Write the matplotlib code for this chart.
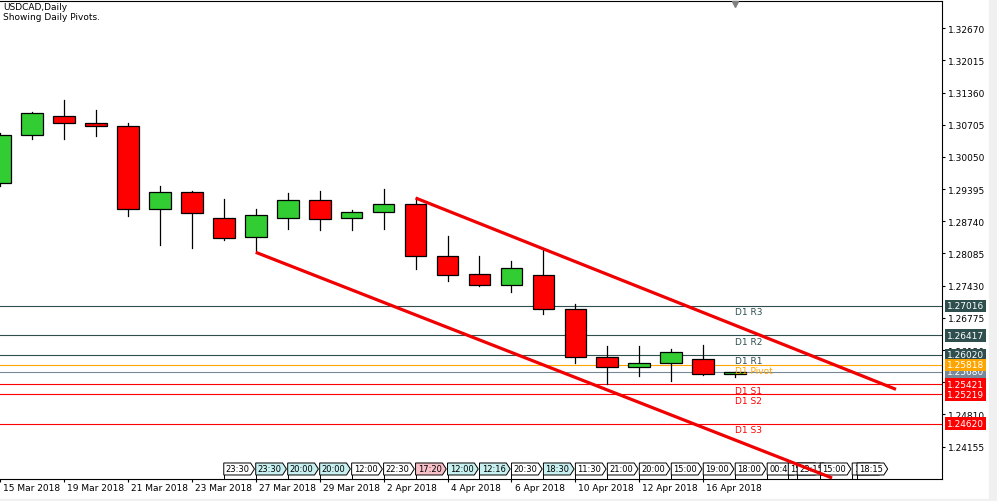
import numpy as np
import matplotlib.pyplot as plt
import matplotlib.transforms as mtransforms
from matplotlib.patches import Rectangle, Polygon

# daily USDCAD candles
dates = ['15 Mar 2018', '16 Mar 2018', '19 Mar 2018', '20 Mar 2018', '21 Mar 2018',
         '22 Mar 2018', '23 Mar 2018', '26 Mar 2018', '27 Mar 2018', '28 Mar 2018',
         '29 Mar 2018', '30 Mar 2018', '2 Apr 2018', '3 Apr 2018', '4 Apr 2018',
         '5 Apr 2018', '6 Apr 2018', '9 Apr 2018', '10 Apr 2018', '11 Apr 2018',
         '12 Apr 2018', '13 Apr 2018', '16 Apr 2018', '17 Apr 2018']
opens = [1.29513, 1.30490, 1.30876, 1.30734, 1.30673, 1.28984, 1.29330, 1.28801,
         1.28414, 1.28801, 1.29167, 1.28801, 1.28923, 1.29086, 1.28027, 1.27661,
         1.27437, 1.27641, 1.26949, 1.25972, 1.25769, 1.25850, 1.25931, 1.25630]
highs = [1.30530, 1.30964, 1.31208, 1.31005, 1.30746, 1.29458, 1.29356, 1.29193,
         1.28990, 1.29316, 1.29356, 1.28970, 1.29397, 1.29214, 1.28434, 1.28027,
         1.27926, 1.28176, 1.27057, 1.26196, 1.26196, 1.26135, 1.26215, 1.25680]
lows = [1.29460, 1.30421, 1.30421, 1.30482, 1.28854, 1.28263, 1.28202, 1.28365,
        1.28129, 1.28583, 1.28563, 1.28569, 1.28589, 1.27775, 1.27531, 1.27417,
        1.27295, 1.26847, 1.25850, 1.25423, 1.25585, 1.25484, 1.25616, 1.25565]
closes = [1.30490, 1.30937, 1.30734, 1.30673, 1.28984, 1.29330, 1.28902, 1.28394,
          1.28862, 1.29167, 1.28780, 1.28923, 1.29086, 1.28027, 1.27641, 1.27437,
          1.27783, 1.26949, 1.25972, 1.25769, 1.25850, 1.26074, 1.25623, 1.25680]

# daily pivot levels
level_names = ['R3', 'R2', 'R1', 'Pivot', 'S1', 'S2', 'S3']
level_values = [1.27016, 1.26417, 1.26020, 1.25818, 1.25421, 1.25219, 1.24620]
level_colors = ['#2F4F4F', '#2F4F4F', '#2F4F4F', '#FFA500', '#FF0000', '#FF0000', '#FF0000']
last_price = 1.25680

# hand drawn channel (start index, start price, end index, end price)
upper_line = [13, 1.29214, 28.03, 1.25320]
lower_line = [8, 1.28109, 26.03, 1.23516]

y_ticks = [1.32670, 1.32015, 1.31360, 1.30705, 1.30050, 1.29395, 1.28740, 1.28085,
           1.27430, 1.26775, 1.26120, 1.25465, 1.24810, 1.24155]

# event time markers along the bottom
event_pos = [7, 8, 9, 10, 11, 12, 13, 14, 15, 16, 17, 18, 19, 20, 21, 22, 23,
             24, 24.66, 24.94, 25.66, 26.66, 26.81]
event_time = ['23:30', '23:30', '20:00', '20:00', '12:00', '22:30', '17:20', '12:00',
              '12:16', '20:30', '18:30', '11:30', '21:00', '20:00', '15:00', '19:00',
              '18:00', '00:45', '15:00', '23:15', '15:00', '18:15', '18:15']
event_color = ['white', '#C8F0F0', '#C8F0F0', '#C8F0F0', 'white', 'white', '#F8C0C8',
               '#C8F0F0', '#C8F0F0', 'white', '#C8F0F0', 'white', 'white', 'white',
               'white', 'white', 'white', 'white', 'white', 'white', 'white', 'white',
               'white']

FS = 6.5
fig = plt.figure(figsize=(9.97, 5.02), dpi=100)
ax = fig.add_axes([0, 22 / 502, 942 / 997, 478 / 502])

# candles
x = np.arange(len(dates))
for i in x:
    o, h, l, c = opens[i], highs[i], lows[i], closes[i]
    col = '#32CD32' if c >= o else '#FF0000'
    ax.plot([i, i], [l, h], color='black', lw=0.9, zorder=2)
    ax.add_patch(Rectangle((i - 0.34, min(o, c)), 0.68, max(abs(c - o), 0.00004),
                           facecolor=col, edgecolor='black', lw=0.9, zorder=3))

# pivot lines and labels
for name, val, col in zip(level_names, level_values, level_colors):
    ax.axhline(val, color=col, lw=0.8, zorder=1)
    ax.annotate('D1 ' + name, xy=(23, val), xytext=(0, -1), textcoords='offset points',
                ha='left', va='top', color=col, fontsize=FS, zorder=4)
    ax.annotate('%.5f' % val, xy=(1, val), xycoords=('axes fraction', 'data'),
                xytext=(3.6, 0), textcoords='offset points', ha='left', va='center',
                color='white', fontsize=FS, zorder=6, annotation_clip=False,
                bbox=dict(boxstyle='square,pad=0.2', fc=col, ec='none'))
ax.axhline(last_price, color='#778899', lw=0.8, zorder=1)
ax.annotate('%.5f' % last_price, xy=(1, last_price), xycoords=('axes fraction', 'data'),
            xytext=(3.6, 0), textcoords='offset points', ha='left', va='center',
            color='white', fontsize=FS, zorder=5.5, annotation_clip=False,
            bbox=dict(boxstyle='square,pad=0.2', fc='#778899', ec='none'))

# channel lines
for ln in [upper_line, lower_line]:
    ax.plot([ln[0], ln[2]], [ln[1], ln[3]], color='#F00000', lw=2.3,
            solid_capstyle='butt', zorder=20, clip_on=False)

# event boxes at the bottom
trans = mtransforms.blended_transform_factory(ax.transData, ax.transAxes)
y0, y1 = 0.0084, 0.0335
for k, (p, t, fc) in enumerate(zip(event_pos, event_time, event_color)):
    z = 7 + k * 0.1
    shape = [(p, y0), (p + 0.84, y0), (p + 0.96, (y0 + y1) / 2), (p + 0.84, y1), (p, y1)]
    ax.add_patch(Polygon(shape, closed=True, transform=trans, fc=fc, ec='black',
                         lw=0.7, zorder=z, clip_on=False))
    ax.plot([p, p], [0, y0], color='black', lw=0.7, transform=trans, zorder=z)
    ax.text(p + 0.44, (y0 + y1) / 2, t, transform=trans, ha='center', va='center',
            fontsize=FS - 0.5, zorder=z + 0.05, clip_on=True)

# axes styling
ax.set_xlim(1 / 32, 943 / 32)
ax.set_ylim(1.234954, 1.332228)
ax.spines['left'].set_visible(False)
ax.yaxis.tick_right()
ax.set_yticks(y_ticks)
ax.set_yticklabels(['%.5f' % v for v in y_ticks])
ax.tick_params(axis='y', direction='out', length=2.5, width=0.8, pad=1.5, labelsize=FS)
tick_idx = list(range(0, len(dates), 2))
ax.set_xticks(tick_idx)
ax.set_xticklabels([])
ax.tick_params(axis='x', direction='out', length=2.5, width=0.8)
for i in tick_idx:
    ax.annotate(dates[i], xy=(i, 0), xycoords=('data', 'axes fraction'),
                xytext=(2.2, -3.2), textcoords='offset points', ha='left', va='top',
                fontsize=FS, annotation_clip=False)

# shift marker at the top
ax.plot([23], [0.9937], marker='v', color='#808080', markersize=5, transform=trans,
        clip_on=False, zorder=9)

fig.text(3 / 997, 1 - 3 / 502, 'USDCAD,Daily', ha='left', va='top', fontsize=FS)
fig.text(3 / 997, 1 - 13 / 502, 'Showing Daily Pivots.', ha='left', va='top', fontsize=FS)

# window border
fig.add_artist(Rectangle((989 / 997, 0), 8 / 997, 1, transform=fig.transFigure,
                         color='#F0F0F0', zorder=0))
fig.add_artist(Rectangle((0, 0), 1, 2 / 502, transform=fig.transFigure,
                         color='#F0F0F0', zorder=0))

fig.savefig('out.png', dpi=100)
